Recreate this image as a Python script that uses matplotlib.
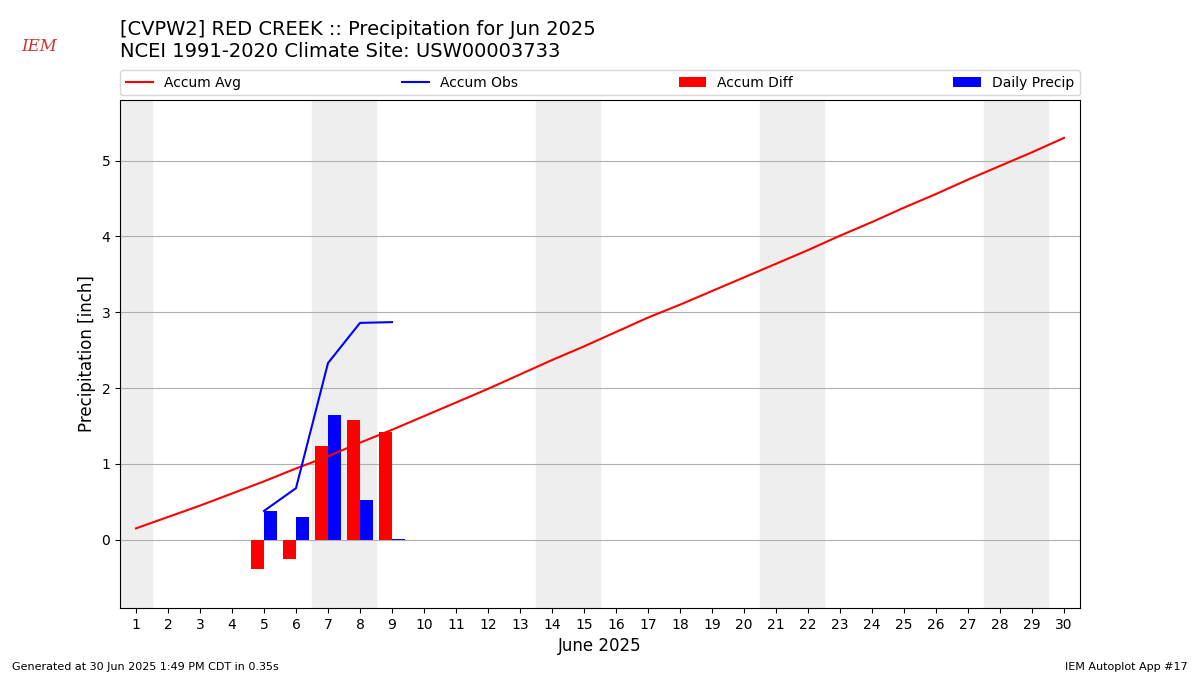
import matplotlib
matplotlib.use("Agg")
import matplotlib.pyplot as plt
import numpy as np

days = list(range(1, 31))
accum_avg = [0.15, 0.30, 0.45, 0.61, 0.77, 0.94, 1.10, 1.28, 1.45, 1.63, 1.81, 1.99, 2.18, 2.37, 2.55,
             2.74, 2.93, 3.10, 3.28, 3.46, 3.64, 3.82, 4.01, 4.19, 4.38, 4.56, 4.75, 4.93, 5.11, 5.30]
obs_days = [5, 6, 7, 8, 9]
accum_obs = [0.38, 0.68, 2.33, 2.86, 2.87]
daily_precip = [0.38, 0.30, 1.65, 0.53, 0.01]
accum_diff = [-0.39, -0.26, 1.23, 1.58, 1.42]
weekend_spans = [(1, 1), (7, 8), (14, 15), (21, 22), (28, 29)]

fig = plt.figure(figsize=(12, 6.75), dpi=100)
ax = fig.add_axes([0.1, 0.0993, 0.8, 0.7526])
for a, b in weekend_spans:
    ax.axvspan(a - 0.5, b + 0.5, color="#eeeeee", zorder=0)
ax.plot(days, accum_avg, color="red", label="Accum Avg", zorder=3)
ax.plot(obs_days, accum_obs, color="blue", label="Accum Obs", zorder=3)
ax.bar(np.array(obs_days) - 0.4, accum_diff, width=0.4, align="edge", color="red", label="Accum Diff", zorder=2)
ax.bar(obs_days, daily_precip, width=0.4, align="edge", color="blue", label="Daily Precip", zorder=2)
ax.set_xlim(0.5, 30.5)
ax.set_ylim(-0.9, 5.8)
ax.set_xticks(days)
ax.set_yticks([0, 1, 2, 3, 4, 5])
ax.yaxis.grid(True, color="#b0b0b0")
ax.set_axisbelow(True)
ax.set_xlabel("June 2025", fontsize=12)
ax.set_ylabel("Precipitation [inch]", fontsize=12)
ax.legend(loc="lower left", bbox_to_anchor=(0, 1.009, 1, 0.05), ncol=4, mode="expand",
          borderaxespad=0, fontsize=10)
fig.text(0.1, 0.948, "[CVPW2] RED CREEK :: Precipitation for Jun 2025", fontsize=14)
fig.text(0.1, 0.915, "NCEI 1991-2020 Climate Site: USW00003733", fontsize=14)
fig.text(0.01, 0.008, "Generated at 30 Jun 2025 1:49 PM CDT in 0.35s", fontsize=8)
fig.text(0.99, 0.008, "IEM Autoplot App #17", fontsize=8, ha="right")
fig.text(0.018, 0.925, "IEM", fontsize=12, color="#cc3333", style="italic", family="DejaVu Serif")
fig.savefig("out.png", dpi=100)
